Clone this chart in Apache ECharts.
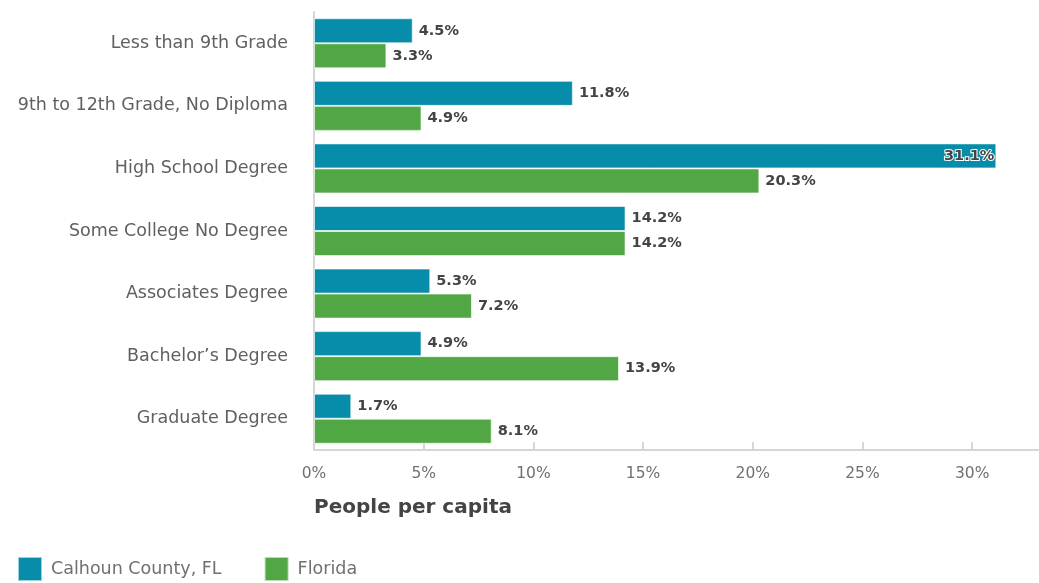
<!DOCTYPE html>
<html>
<head>
<meta charset="utf-8">
<script src="https://cdn.jsdelivr.net/npm/echarts@6/dist/echarts.min.js"></script>
<style>html,body{margin:0;padding:0;background:#fff}#c{width:1039px;height:583px}</style>
</head>
<body>
<div id="c"></div>
<script>
const categories = ["Less than 9th Grade", "9th to 12th Grade, No Diploma", "High School Degree", "Some College No Degree", "Associates Degree", "Bachelor’s Degree", "Graduate Degree"];
const calhoun = [4.5, 11.8, 31.1, 14.2, 5.3, 4.9, 1.7];
const florida = [3.3, 4.9, 20.3, 14.2, 7.2, 13.9, 8.1];
const tickValues = [0, 5, 10, 15, 20, 25, 30];
const seriesNames = ["Calhoun County, FL", "Florida"];
const axisTitle = "People per capita";

const FONT = "'DejaVu Sans', sans-serif";
const labelBase = {
  show: true, position: 'right', distance: 6,
  color: '#444', fontFamily: FONT, fontWeight: 'bold', fontSize: 14.5,
  formatter: p => p.value.toFixed(1) + '%'
};
function mkData(arr) {
  return arr.map(v => v > 30 ? {value: v, label: {position: 'insideRight', distance: 2, textBorderColor: '#fff', textBorderWidth: 2}} : v);
}
const chart = echarts.init(document.getElementById('c'));
chart.setOption({
  animation: false,
  grid: {left: 314, right: 1, top: 12, bottom: 133, containLabel: false},
  title: {text: axisTitle, left: 309, top: 493, textStyle: {fontFamily: FONT, fontWeight: 'bold', fontSize: 20, color: '#444'}},
  legend: {
    left: 12, top: 551, itemWidth: 24, itemHeight: 24, itemGap: 42,
    icon: 'rect',
    textStyle: {fontFamily: FONT, fontSize: 17.5, color: '#707070', padding: [0, 0, 0, 4]},
    data: seriesNames
  },
  xAxis: {
    type: 'value', min: 0, max: 33, interval: 5,
    splitLine: {show: false},
    axisLine: {show: true, lineStyle: {color: '#d6d6d6', width: 2}},
    axisTick: {show: true, inside: true, length: 8, customValues: tickValues, lineStyle: {color: '#d6d6d6', width: 2}},
    axisLabel: {customValues: tickValues, margin: 16, color: '#707070', fontFamily: FONT, fontSize: 15.5, formatter: v => v + '%'}
  },
  yAxis: {
    type: 'category', data: categories, inverse: true,
    axisLine: {show: true, lineStyle: {color: '#d6d6d6', width: 2}},
    axisTick: {show: false},
    axisLabel: {margin: 26, color: '#606060', fontFamily: FONT, fontSize: 17.5}
  },
  series: [
    {name: seriesNames[0], type: 'bar', data: mkData(calhoun), barGap: '0%', barCategoryGap: '20%',
     itemStyle: {color: '#078da9', borderColor: 'rgba(255,255,255,0.6)', borderWidth: 1}, label: labelBase},
    {name: seriesNames[1], type: 'bar', data: mkData(florida),
     itemStyle: {color: '#52a745', borderColor: 'rgba(255,255,255,0.6)', borderWidth: 1}, label: labelBase}
  ]
});
</script>
</body>
</html>
